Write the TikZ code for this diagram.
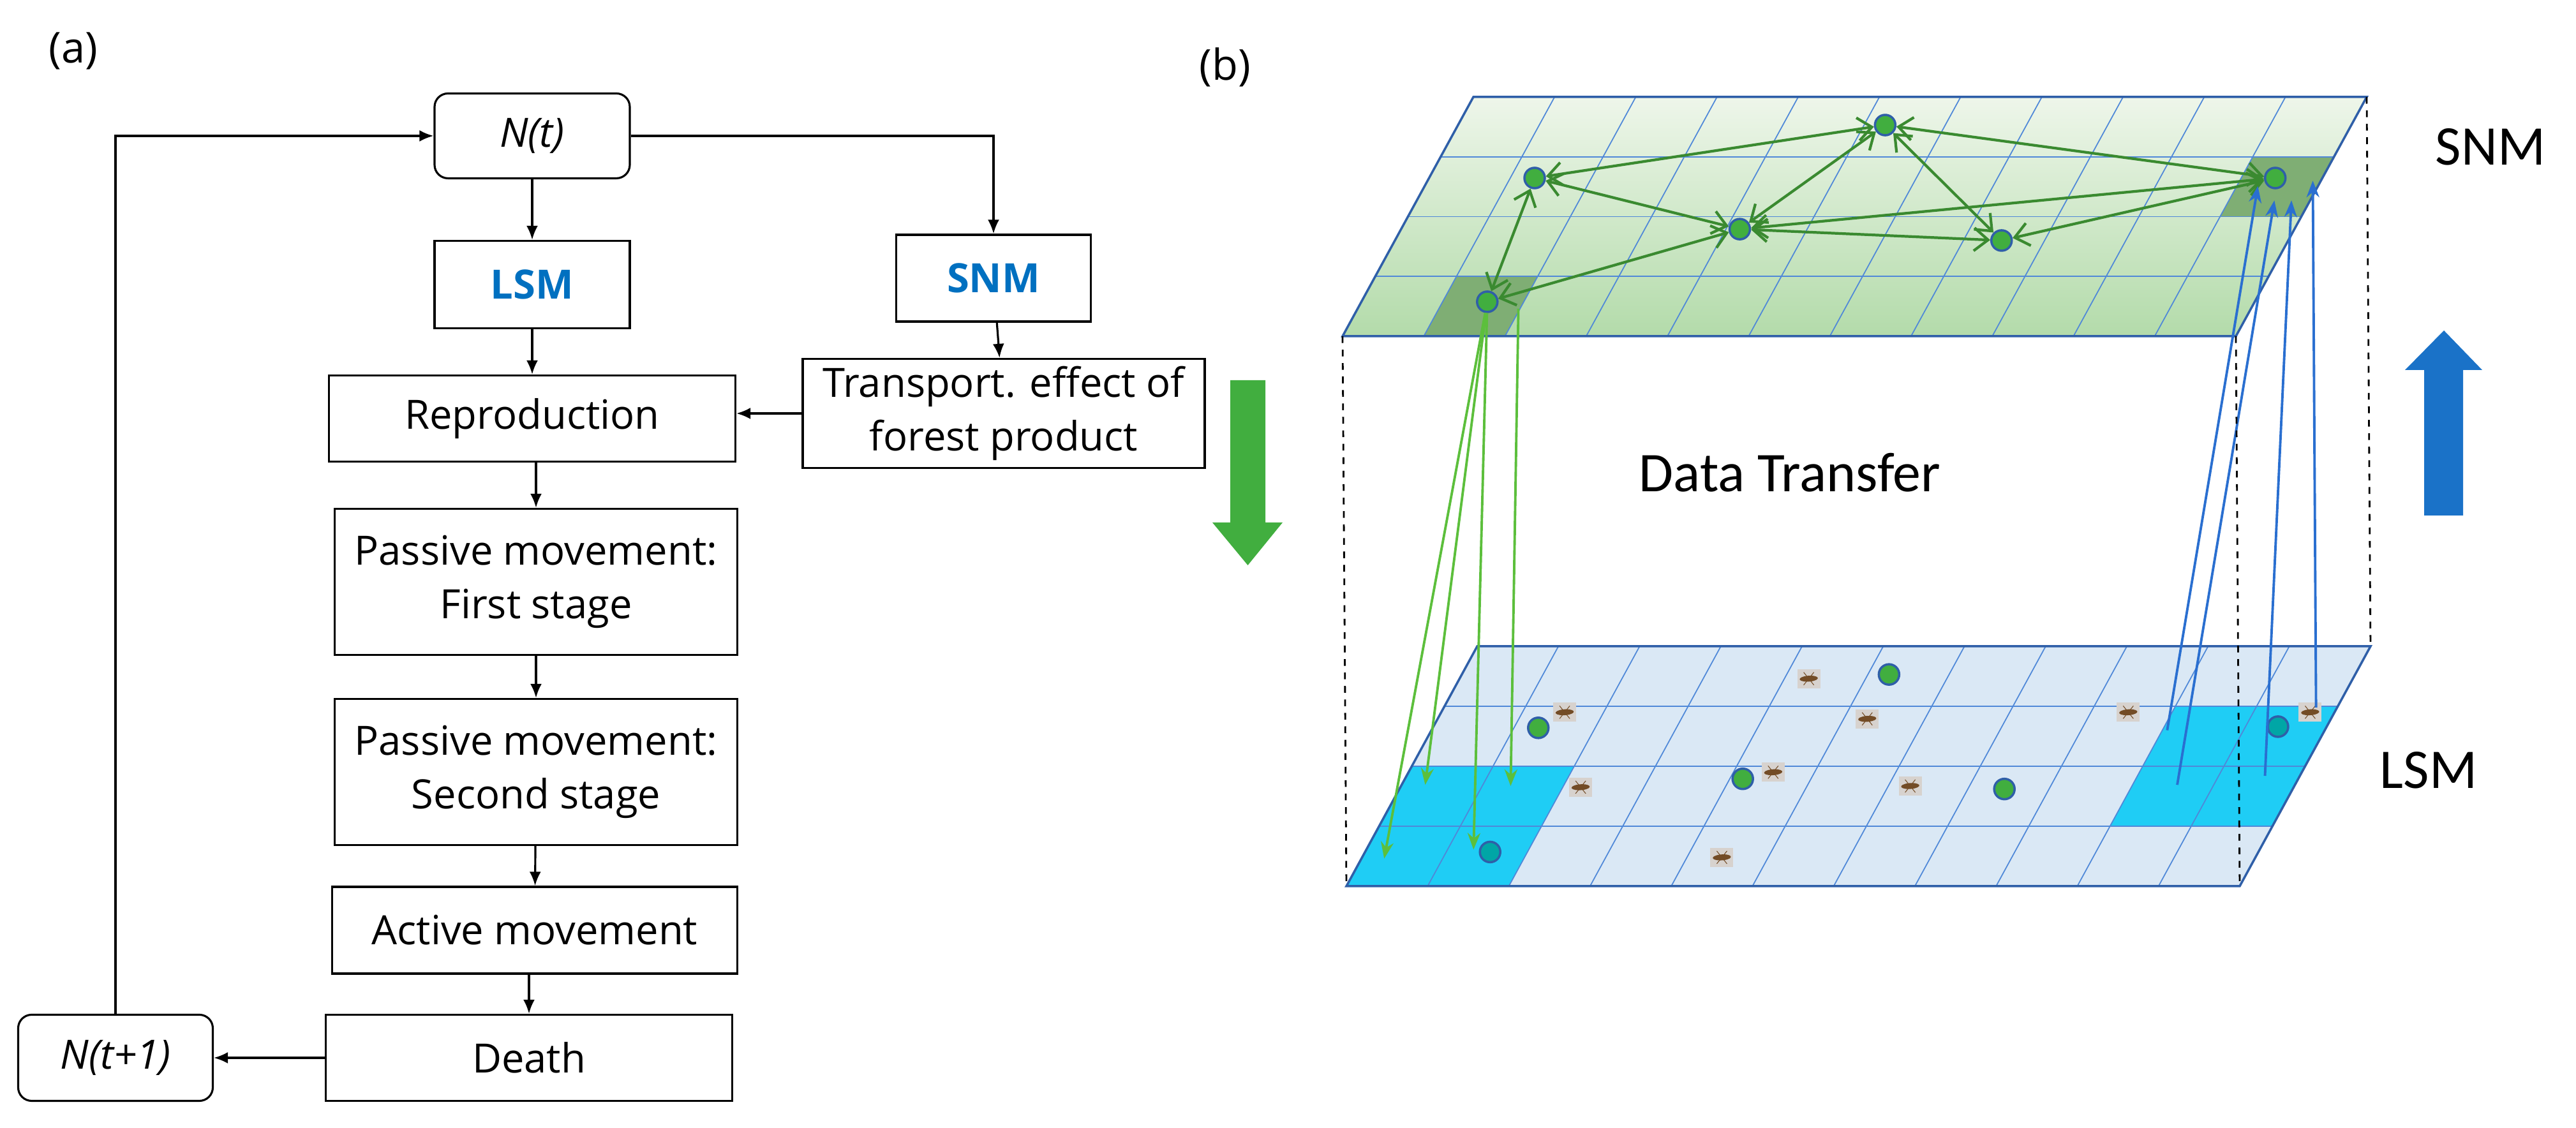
\documentclass[tikz,border=0pt]{standalone}
\usepackage{fontspec}
\setmainfont{Open Sans}
\newfontfamily\carl{Carlito}
\usetikzlibrary{arrows.meta}
\definecolor{tblue}{HTML}{0070C0}
\definecolor{snmtop}{HTML}{EEF6EA}
\definecolor{snmbot}{HTML}{B3DBAA}
\definecolor{darkcell}{HTML}{7FAE74}
\definecolor{lsmfill}{HTML}{DAE8F5}
\definecolor{cellcyan}{HTML}{1FCDF5}
\definecolor{edgeblue}{HTML}{2F5FA8}
\definecolor{gridblue}{HTML}{4F88D8}
\definecolor{netgreen}{HTML}{3A8A30}
\definecolor{downgreen}{HTML}{5CBF3C}
\definecolor{bigblue}{HTML}{1A72C8}
\definecolor{biggreen}{HTML}{41AE3F}
\definecolor{upblue}{HTML}{2A6FD0}
\begin{document}
\begin{tikzpicture}[
    box/.style={draw,line width=0.9pt,rectangle,align=center,inner sep=0pt,font=\fontsize{18}{24}\selectfont},
    rbox/.style={box,rounded corners=6pt},
    flow/.style={line width=0.9pt,-{Latex[length=2.2mm,width=1.8mm]}},
    dot/.style={circle,inner sep=0pt,minimum size=0.32cm,fill=biggreen,draw=edgeblue,line width=1pt},
    tdot/.style={dot,fill=teal!70!cyan},
    bug/.style={rectangle,inner sep=0pt,minimum width=0.36cm,minimum height=0.3cm,fill=brown!20!gray!35,
      path picture={\fill[brown!60!black] (path picture bounding box.center) ellipse (0.11 and 0.05);
        \draw[brown!60!black,line width=0.3pt] ([xshift=-0.08cm,yshift=-0.1cm]path picture bounding box.center) -- ([xshift=0.08cm,yshift=0.1cm]path picture bounding box.center)
          ([xshift=-0.08cm,yshift=0.1cm]path picture bounding box.center) -- ([xshift=0.08cm,yshift=-0.1cm]path picture bounding box.center);}},
    netarrow/.style={netgreen,line width=1.2pt,{Straight Barb[length=2.2mm,width=3.6mm]}-{Straight Barb[length=2.2mm,width=3.6mm]}},
    downarrow/.style={downgreen,line width=1.1pt,-{Stealth[length=2.6mm,width=2mm]}},
    uparrow/.style={upblue,line width=1.1pt,-{Stealth[length=2.6mm,width=2mm]}},
    gridline/.style={gridblue,line width=0.5pt},
    planeedge/.style={edgeblue,line width=1pt},
    lab/.style={font=\carl\fontsize{25}{30}\selectfont}
  ]
  \useasboundingbox (0,0) rectangle (40.37,17.68);
  % (a) flow chart
  \node[font=\fontsize{19}{22}\selectfont] (la) at (1.15,16.88) {(a)};
  \node[rbox,minimum width=3.06cm,minimum height=1.33cm] (nt) at (8.34,15.55) {\itshape N(t)};
  \node[box,minimum width=3.06cm,minimum height=1.37cm,text=tblue,font=\bfseries\fontsize{18}{22}\selectfont] (lsm) at (8.34,13.22) {LSM};
  \node[box,minimum width=3.05cm,minimum height=1.36cm,text=tblue,font=\bfseries\fontsize{18}{22}\selectfont] (snm) at (15.57,13.32) {SNM};
  \node[box,minimum width=6.37cm,minimum height=1.35cm] (rep) at (8.34,11.12) {Reproduction};
  \node[box,minimum width=6.30cm,minimum height=1.71cm] (trans) at (15.73,11.20) {Transport. effect of\\forest product};
  \node[box,minimum width=6.31cm,minimum height=2.29cm] (pas1) at (8.40,8.56) {Passive movement:\\First stage};
  \node[box,minimum width=6.31cm,minimum height=2.29cm] (pas2) at (8.40,5.58) {Passive movement:\\Second stage};
  \node[box,minimum width=6.35cm,minimum height=1.36cm] (act) at (8.38,3.10) {Active movement};
  \node[box,minimum width=6.37cm,minimum height=1.35cm] (death) at (8.29,1.10) {Death};
  \node[rbox,minimum width=3.05cm,minimum height=1.35cm] (ntt) at (1.81,1.10) {\itshape N(t+1)};
  \draw[flow] (nt) -- (lsm);
  \draw[flow] (lsm) -- (lsm |- rep.north);
  \draw[flow] (rep.south -| pas1) -- (pas1);
  \draw[flow] (pas1) -- (pas2);
  \draw[flow] (pas2) -- (act);
  \draw[flow] (act.south -| death.north) -- (death);
  \draw[flow] (death) -- (ntt);
  \draw[flow] (ntt) |- (nt);
  \draw[flow] (nt.east) -| (snm.north);
  \draw[flow] (snm) -- (trans);
  \draw[flow] (trans.west) -- (trans.west -| rep.east);
  % (b) two layers
  \node[font=\fontsize{19}{22}\selectfont] (lb) at (19.20,16.63) {(b)};
  \begin{scope}[shift={(21.10,3.79)},x={(1.2727cm,0cm)},y={(0.5125cm,0.94cm)}]
    \fill[lsmfill] (0,0) -- (11,0) -- (11,4) -- (0,4) -- cycle;
    \fill[cellcyan] (0,0) -- (2,0) -- (2,2) -- (0,2) -- cycle (9,1) -- (11,1) -- (11,3) -- (9,3) -- cycle;
    \foreach \i in {1,...,10} \draw[gridline] (\i,0) -- (\i,4);
    \foreach \j in {1,2,3} \draw[gridline] (0,\j) -- (11,\j);
    \draw[planeedge] (0,0) -- (11,0) -- (11,4) -- (0,4) -- cycle;
    \coordinate (bBL) at (0,0);
    \coordinate (bBR) at (11,0);
    \coordinate (bTR) at (11,4);
    \node[dot] (b1) at (5.26,3.53) {};
    \node[dot] (b2) at (1.30,2.64) {};
    \node[dot] (b3) at (4.16,1.79) {};
    \node[dot] (b4) at (7.45,1.62) {};
    \node[tdot] (b5) at (10.40,2.66) {};
    \node[tdot] (b6) at (1.54,0.57) {};
    \foreach \u/\v [count=\k] in {4.30/3.46,1.52/2.90,5.29/2.79,8.46/2.90,4.49/1.90,2.22/1.65,6.27/1.67,4.43/0.48,10.70/2.90}
      \node[bug] (k\k) at (\u,\v) {};
    \coordinate (c1) at (0.28,0.46);
    \coordinate (c2) at (0.29,1.69);
    \coordinate (c3) at (1.32,0.61);
    \coordinate (c4) at (1.35,1.67);
    \coordinate (d1) at (9.06,2.60);
    \coordinate (d2) at (9.55,1.69);
    \coordinate (d3) at (10.57,1.84);
    \coordinate (d4) at (10.74,2.98);
  \end{scope}
  \begin{scope}[shift={(21.04,12.41)},x={(1.2727cm,0cm)},y={(0.5125cm,0.9375cm)}]
    \shade[top color=snmtop,bottom color=snmbot] (0,0) -- (11,0) -- (11,4) -- (0,4) -- cycle;
    \fill[darkcell] (1,0) -- (2,0) -- (2,1) -- (1,1) -- cycle (10,2) -- (11,2) -- (11,3) -- (10,3) -- cycle;
    \foreach \i in {1,...,10} \draw[gridline] (\i,0) -- (\i,4);
    \foreach \j in {1,2,3} \draw[gridline] (0,\j) -- (11,\j);
    \draw[planeedge] (0,0) -- (11,0) -- (11,4) -- (0,4) -- cycle;
    \coordinate (tBL) at (0,0);
    \coordinate (tBR) at (11,0);
    \coordinate (tTR) at (11,4);
    \node[dot] (s1) at (5.26,3.53) {};
    \node[dot] (s2) at (1.30,2.645) {};
    \node[dot] (s3) at (4.17,1.79) {};
    \node[dot] (s4) at (7.47,1.60) {};
    \node[dot] (s5) at (10.42,2.645) {};
    \node[dot] (s6) at (1.55,0.576) {};
    \coordinate (g4) at (1.98,0.46);
    \coordinate (e1) at (10.26,2.51);
    \coordinate (e2) at (10.56,2.27);
    \coordinate (e3) at (10.77,2.27);
    \coordinate (e4) at (10.90,2.60);
  \end{scope}
  \foreach \a/\b in {s1/s2,s1/s5,s1/s3,s1/s4,s2/s3,s3/s5,s3/s4,s4/s5,s2/s6,s6/s3}
    \draw[netarrow] (\a) -- (\b);
  \draw[downarrow] (s6) -- (c1);
  \draw[downarrow] (s6) -- (c2);
  \draw[downarrow] (s6) -- (c3);
  \draw[downarrow] (g4) -- (c4);
  \foreach \i in {1,...,4} \draw[uparrow] (d\i) -- (e\i);
  \draw[dashed,line width=0.8pt] (tBL) -- (bBL) (tBR) -- (bBR) (tTR) -- (bTR);
  \node[lab] (dt) at (28.05,10.27) {Data Transfer};
  \node[lab] (snmlab) at (39.03,15.38) {SNM};
  \node[lab] (lsmlab) at (38.06,5.61) {LSM};
  \fill[biggreen] (19.28,11.72) -- (19.83,11.72) -- (19.83,9.49) -- (20.10,9.49) -- (19.555,8.82)
    -- (19.00,9.49) -- (19.28,9.49) -- cycle;
  \fill[bigblue] (37.99,9.60) -- (38.60,9.60) -- (38.60,11.88) -- (38.90,11.88) -- (38.30,12.50)
    -- (37.69,11.88) -- (37.99,11.88) -- cycle;
\end{tikzpicture}
\end{document}
